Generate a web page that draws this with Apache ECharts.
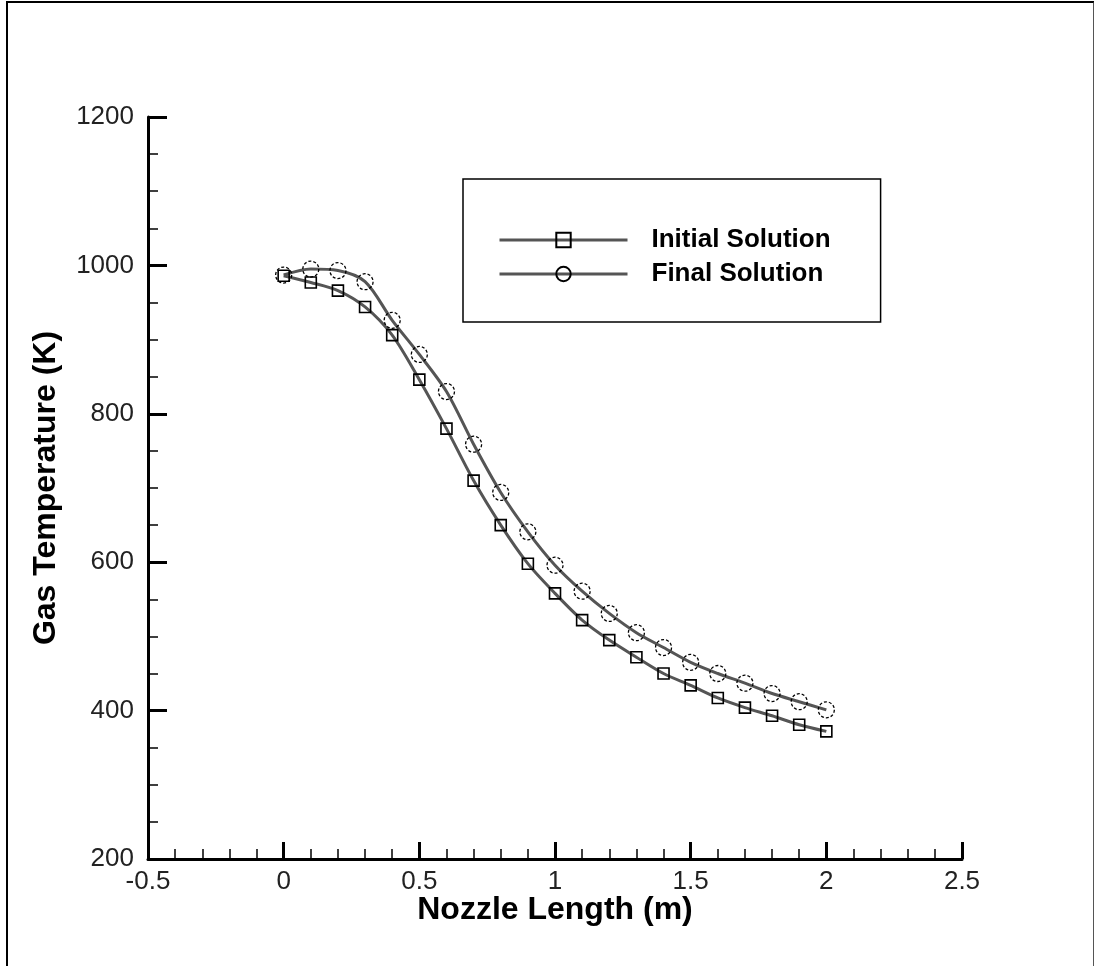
<!DOCTYPE html>
<html>
<head>
<meta charset="utf-8">
<script src="https://cdn.jsdelivr.net/npm/echarts@6/dist/echarts.min.js"></script>
<style>
  html, body { margin: 0; padding: 0; background: #fff; }
  #chart { width: 1094px; height: 966px; position: absolute; left: 0; top: 0; }
  #frame { position: absolute; left: 6px; top: 1px; width: 1085px; height: 980px;
           border-left: 2px solid #000; border-top: 2px solid #000; border-right: 2px solid #555;
           pointer-events: none; }
</style>
</head>
<body>
<div id="chart"></div>
<div id="frame"></div>
<script>
const xValues = [0, 0.1, 0.2, 0.3, 0.4, 0.5, 0.6, 0.7, 0.8, 0.9, 1.0, 1.1, 1.2, 1.3, 1.4, 1.5, 1.6, 1.7, 1.8, 1.9, 2.0];
const initialSolution = [986, 977, 966, 944, 906, 846, 780, 710, 650, 598, 558, 522, 495, 472, 450, 434, 417, 404, 393, 381, 372];
const finalSolution = [987, 995, 993, 978, 926, 880, 830, 759, 694, 641, 596, 561, 531, 505, 485, 465, 450, 437, 423, 412, 401];
const seriesNames = ['Initial Solution', 'Final Solution'];
const xAxisName = 'Nozzle Length (m)';
const yAxisName = 'Gas Temperature (K)';

const chart = echarts.init(document.getElementById('chart'), null, { renderer: 'canvas' });
const pairs = arr => xValues.map((x, i) => [x, arr[i]]);
const lineColor = '#555';
const font = 'Liberation Sans, Arial, sans-serif';

const option = {
  animation: false,
  backgroundColor: '#fff',
  grid: { left: 148, right: 132, top: 117, bottom: 107 },
  legend: {
    orient: 'vertical',
    left: 463, top: 179,
    padding: [48, 50, 35, 35],
    itemWidth: 128, itemHeight: 18, itemGap: 8,
    borderColor: '#000', borderWidth: 1.5,
    backgroundColor: '#fff',
    lineStyle: { width: 3 },
    textStyle: { fontFamily: font, fontWeight: 'bold', fontSize: 26, lineHeight: 25, color: '#000', padding: [0, 0, 0, 19] },
    data: seriesNames
  },
  xAxis: {
    type: 'value', min: -0.5, max: 2.5, interval: 0.5,
    name: xAxisName, nameLocation: 'middle', nameGap: 35, nameMoveOverlap: false,
    nameTextStyle: { fontFamily: font, fontWeight: 'bold', fontSize: 32, color: '#000' },
    axisLine: { onZero: false, lineStyle: { color: '#000', width: 3 } },
    axisTick: { inside: true, length: 17, lineStyle: { color: '#000', width: 3 } },
    minorTick: { show: true, splitNumber: 5, length: 10, lineStyle: { color: '#000', width: 1.5 } },
    splitLine: { show: false },
    axisLabel: { fontFamily: font, fontSize: 26, color: '#222', margin: 10, formatter: v => String(v) }
  },
  yAxis: {
    type: 'value', min: 200, max: 1200, interval: 200,
    name: yAxisName, nameLocation: 'middle', nameGap: 86, nameMoveOverlap: false,
    nameTextStyle: { fontFamily: font, fontWeight: 'bold', fontSize: 32, color: '#000' },
    axisLine: { onZero: false, lineStyle: { color: '#000', width: 3 } },
    axisTick: { inside: true, length: 19, lineStyle: { color: '#000', width: 3 } },
    minorTick: { show: true, splitNumber: 4, length: 10, lineStyle: { color: '#000', width: 1.5 } },
    splitLine: { show: false },
    axisLabel: { fontFamily: font, fontSize: 26, color: '#222', margin: 14, formatter: v => String(v) }
  },
  series: [
    {
      name: seriesNames[0], type: 'line', smooth: 0.3,
      data: pairs(initialSolution),
      symbol: 'rect', symbolSize: 11,
      lineStyle: { color: lineColor, width: 3 },
      itemStyle: { color: 'rgba(255,255,255,0)', borderColor: '#000', borderWidth: 1.6 },
      z: 3
    },
    {
      name: seriesNames[1], type: 'line', smooth: 0.3,
      data: pairs(finalSolution),
      symbol: 'circle', symbolSize: 16,
      lineStyle: { color: lineColor, width: 3 },
      itemStyle: { color: 'rgba(255,255,255,0)', borderColor: '#000', borderWidth: 1.3, borderType: [3, 2] },
      z: 3
    }
  ]
};
chart.setOption(option);
</script>
</body>
</html>
